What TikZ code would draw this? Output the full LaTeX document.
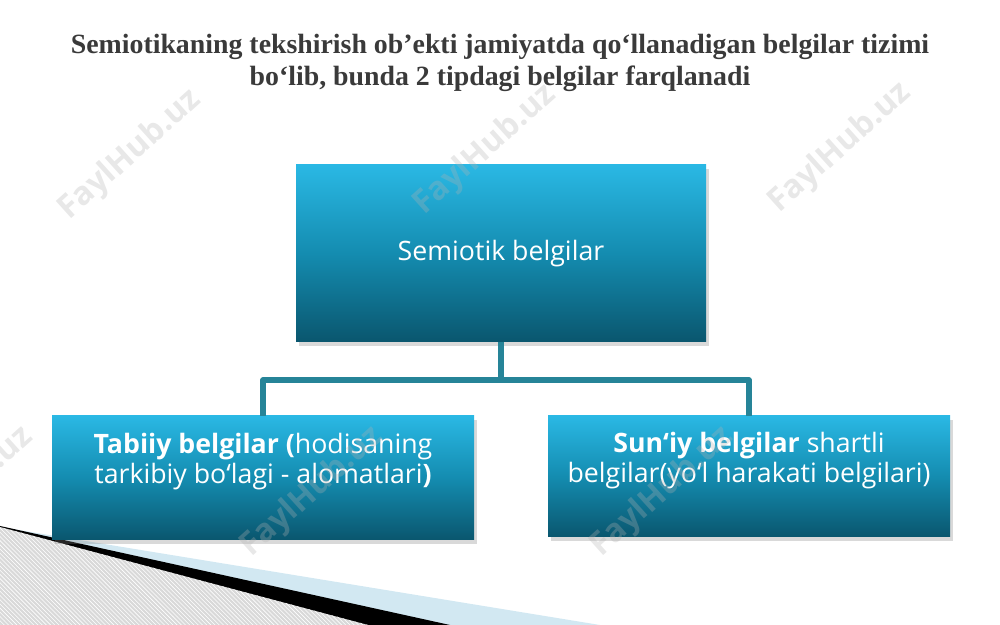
\documentclass[tikz,border=0pt]{standalone}
\usepackage{fontspec}
\setmainfont{Liberation Serif}
\newfontfamily\boxfont{Open Sans}
\usetikzlibrary{shadows,patterns}
\definecolor{boxtop}{RGB}{42,184,228}
\definecolor{boxmid}{RGB}{20,140,176}
\definecolor{boxbot}{RGB}{10,86,110}
\definecolor{linkcol}{RGB}{38,132,152}
\definecolor{titlecol}{RGB}{58,58,58}
\definecolor{paleblue}{RGB}{210,232,242}

\begin{document}
\begin{tikzpicture}[
  box/.style = {rectangle, top color = boxtop, bottom color = boxbot, middle color = boxmid,
    drop shadow = {shadow xshift = 2pt, shadow yshift = -3pt, opacity = 0.3}},
  boxtext/.style = {text = white, align = center, font = \boxfont\fontsize{19}{21.3}\selectfont},
  link/.style = {draw = linkcol, line width = 4pt, line join = round},
  wmark/.style = {text = gray!60, opacity = 0.3, rotate = 42,
    font = \boxfont\bfseries\fontsize{23}{23}\selectfont}
]
\useasboundingbox (0, 0) rectangle (25, 15.625);
%\draw [very thin, color = gray] (0, 0) grid (25, 15);

% corner decoration
\fill [paleblue] (0, 2.45) -- (15, 0) -- (0, 0) -- cycle;
\fill [black] (0, 2.475) -- (11.25, 0) -- (0, 0) -- cycle;
\fill [gray!30] (0, 2.45) -- (9.2, 0) -- (0, 0) -- cycle;
\fill [pattern = north west lines, pattern color = white] (0, 2.45) -- (9.2, 0) -- (0, 0) -- cycle;

\node [text = titlecol, align = center, font = \bfseries\fontsize{19.8}{22.7}\selectfont] (title) at (12.5, 14.05)
  {Semiotikaning tekshirish ob’ekti jamiyatda qo‘llanadigan belgilar tizimi\\ bo‘lib, bunda 2 tipdagi belgilar farqlanadi};

\node [box, boxtext, minimum width = 10.25cm, minimum height = 4.425cm] (top) at (12.525, 9.2875) {Semiotik belgilar};
\node [box, minimum width = 10.55cm, minimum height = 3.1cm] (left) at (6.575, 3.675) {};
\node [box, minimum width = 10.05cm, minimum height = 3.025cm] (right) at (18.725, 3.7125) {};
\node [boxtext] (lefttext) at ([yshift = 0.4cm]left.center)
  {\textbf{Tabiiy belgilar (}hodisaning\\ tarkibiy bo‘lagi - alomatlari\textbf{)}};
\node [boxtext] (righttext) at ([yshift = 0.39cm]right.center)
  {\textbf{Sun‘iy belgilar} shartli\\ belgilar(yo‘l harakati belgilari)};

\coordinate (fork) at ([yshift = -0.95cm]top.south);
\draw [link] (top.south) -- (fork) -| (left.north);
\draw [link] (fork) -| (right.north);

% watermark
\foreach \wx/\wy [count = \i] in {3.25/11.75, 12.125/11.875, 21/11.925, -0.95/3.325, 7.8/3.325, 16.55/3.325}
  \node [wmark] (wm\i) at (\wx, \wy) {FaylHub.uz};
\end{tikzpicture}
\end{document}
